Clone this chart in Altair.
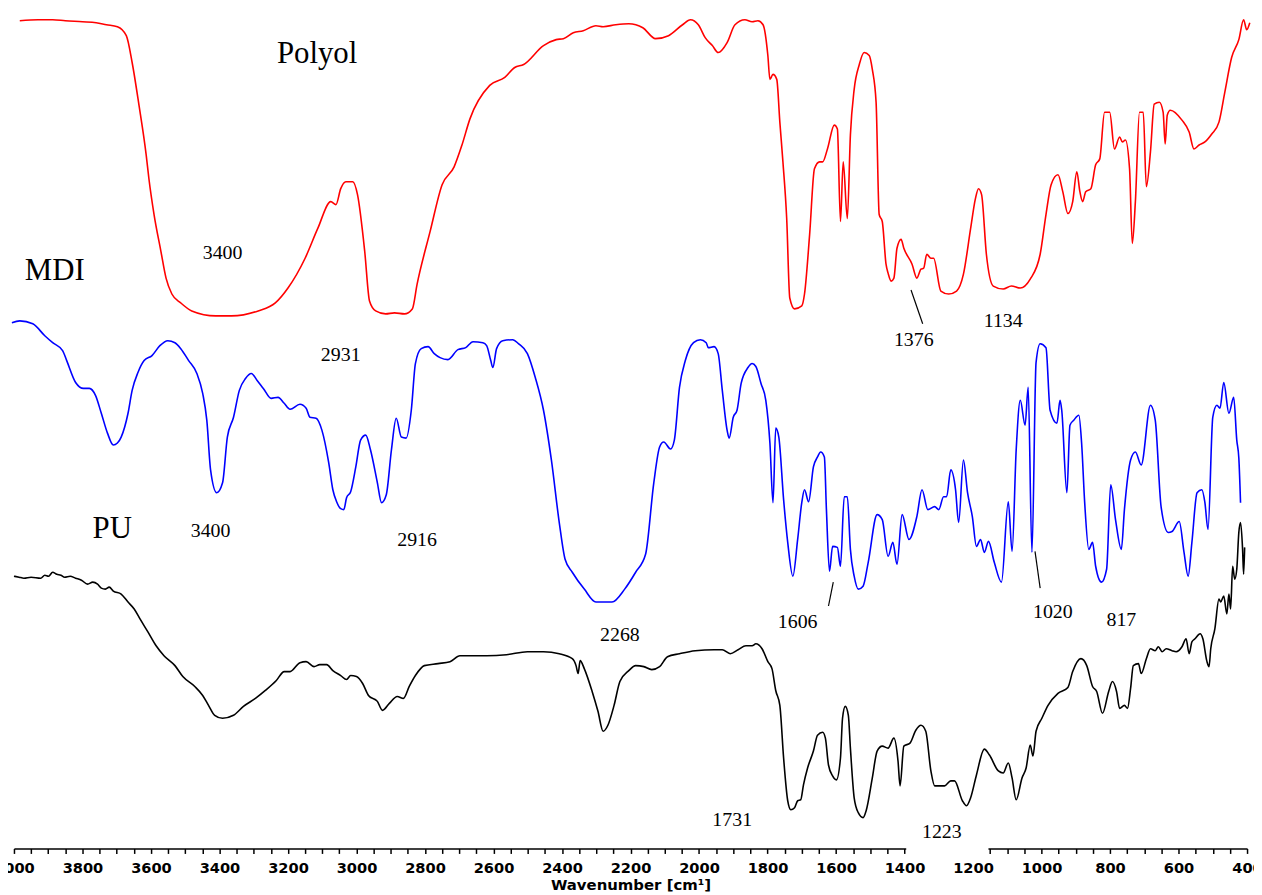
import altair as alt
import pandas as pd

# ---- spectra: (wavenumber cm-1, offset signal a.u. - larger = lower on chart) ----
polyol = [(3983,18),(3930,17),(3887,17),(3850,18),(3800,19),(3760,20),(3730,22),(3698,24),(3672,33),(3655,60),(3635,103),
(3614,153),(3606,177),(3591,213),(3571,250),(3556,277),(3539,293),(3513,302),(3481,310),(3411,315),(3365,315),
(3287,310),(3237,302),(3200,287),(3150,257),(3113,227),(3075,200),(3060,203),(3046,187),(3031,180),(3011,180),
(2997,193),(2976,250),(2962,300),(2944,310),(2915,313),(2889,312),(2860,313),(2837,308),(2823,283),(2785,230),
(2750,183),(2715,165),(2692,143),(2669,117),(2611,83),(2567,75),(2538,65),(2512,62),(2454,43),(2417,37),(2396,36),
(2367,30),(2338,28),(2301,23),(2280,24),(2243,22),(2205,21),(2164,25),(2127,36),(2089,33),(2048,22),(2025,17),
(2002,22),(1982,35),(1961,43),(1944,50),(1918,40),(1895,22),(1866,17),(1845,19),(1828,18),(1813,22),(1799,53),
(1793,77),(1784,72),(1773,77),(1764,120),(1755,160),(1744,217),(1735,297),(1721,308),(1700,305),(1692,293),
(1677,233),(1663,167),(1648,160),(1639,160),(1625,147),(1605,123),(1596,127),(1587,220),(1579,160),(1567,217),
(1558,133),(1547,87),(1532,62),(1518,50),(1503,53),(1494,67),(1483,100),(1474,213),(1465,220),(1454,263),
(1448,272),(1439,280),(1431,277),(1422,247),(1410,238),(1402,247),(1378,263),(1364,277),(1352,268),(1344,267),
(1335,253),(1323,257),(1315,257),(1294,290),(1271,293),(1248,290),(1228,273),(1207,227),(1193,197),(1184,187),
(1175,193),(1161,253),(1141,285),(1112,288),(1088,285),(1062,287),(1033,278),(1004,253),(987,213),(972,183),
(952,173),(938,190),(923,212),(909,200),(897,170),(888,190),(880,200),(871,190),(856,187),(842,163),(830,157),
(816,110),(801,110),(787,147),(772,135),(764,140),(755,138),(743,167),(735,242),(726,200),(714,110),(703,110),
(694,185),(682,150),(671,102),(656,100),(645,110),(639,142),(633,113),(624,108),(590,118),(569,130),(555,147),
(540,143),(523,140),(503,132),(482,120),(465,90),(445,55),(424,37),(410,17),(401,27),(392,20)]

mdi = [(4006,322),(3983,320),(3945,323),(3910,335),(3887,342),(3858,350),(3846,360),(3820,382),(3797,388),(3780,388),
(3762,395),(3745,413),(3727,433),(3710,445),(3698,443),(3687,437),(3667,413),(3655,390),(3638,372),(3620,360),
(3597,355),(3574,345),(3551,340),(3530,342),(3513,348),(3490,360),(3466,373),(3449,393),(3437,420),(3426,470),
(3408,493),(3391,483),(3377,437),(3359,417),(3342,390),(3324,378),(3307,373),(3290,380),(3272,388),(3249,398),
(3229,397),(3211,403),(3194,409),(3165,404),(3147,408),(3136,417),(3118,418),(3101,430),(3081,463),(3069,490),
(3058,502),(3046,509),(3037,510),(3029,498),(3017,492),(3002,467),(2988,440),(2973,435),(2959,450),(2939,483),
(2927,503),(2913,495),(2898,450),(2884,418),(2869,437),(2855,438),(2840,410),(2828,363),(2811,348),(2791,346),
(2773,353),(2756,357),(2733,359),(2704,349),(2681,347),(2660,341),(2631,342),(2620,345),(2608,360),(2602,367),
(2591,348),(2573,340),(2544,339),(2527,343),(2501,353),(2478,377),(2454,410),(2431,460),(2408,523),(2391,560),
(2370,573),(2335,590),(2301,603),(2254,603),(2217,590),(2185,573),(2156,555),(2132,483),(2115,447),(2103,442),
(2083,449),(2072,440),(2057,387),(2040,360),(2016,342),(1996,339),(1979,342),(1973,347),(1956,346),(1944,353),
(1932,390),(1918,430),(1912,438),(1900,417),(1889,410),(1877,383),(1857,367),(1845,363),(1834,366),(1819,383),
(1805,400),(1793,443),(1784,503),(1776,428),(1767,437),(1753,500),(1741,543),(1726,577),(1712,540),(1700,503),
(1692,490),(1680,502),(1666,467),(1654,457),(1645,452),(1634,457),(1628,510),(1619,572),(1610,547),(1596,548),
(1587,567),(1576,497),(1567,497),(1558,550),(1547,577),(1535,590),(1521,587),(1506,563),(1480,515),(1465,520),
(1448,557),(1434,543),(1422,565),(1407,515),(1387,540),(1364,517),(1349,490),(1332,510),(1312,507),(1300,510),
(1286,497),(1277,497),(1265,470),(1251,490),(1242,523),(1228,460),(1216,493),(1202,517),(1190,547),(1178,540),
(1167,553),(1155,542),(1138,563),(1117,583),(1097,502),(1086,552),(1074,450),(1062,400),(1048,425),(1039,387),
(1028,553),(1016,362),(1004,343),(987,347),(975,410),(955,423),(946,400),(941,410),(926,493),(917,425),(906,420),
(891,415),(883,443),(874,503),(862,550),(851,543),(842,567),(825,583),(810,570),(798,485),(784,520),(767,550),
(758,510),(740,460),(726,452),(709,465),(682,405),(668,420),(651,507),(630,533),(619,532),(598,522),(584,553),
(572,577),(561,543),(546,493),(532,490),(523,503),(514,530),(500,417),(488,405),(479,408),(468,382),(453,413),
(439,397),(430,440),(424,458),(419,503)]

pu = [(4000,577),(3985,578),(3971,579),(3950,578),(3922,579),(3910,576),(3899,577),(3887,573),(3875,575),(3863,576),
(3852,578),(3836,577),(3820,579),(3803,581),(3785,585),(3770,583),(3756,585),(3745,589),(3733,590),(3722,588),
(3710,592),(3687,595),(3667,603),(3649,610),(3632,620),(3609,633),(3585,647),(3562,657),(3530,667),(3507,678),
(3472,688),(3449,697),(3432,707),(3414,717),(3391,720),(3359,717),(3330,708),(3295,700),(3266,692),(3234,682),
(3211,673),(3194,673),(3165,664),(3147,663),(3124,668),(3107,666),(3087,666),(3069,672),(3046,677),(3029,681),
(3017,677),(3000,678),(2982,685),(2965,697),(2939,703),(2924,712),(2904,705),(2881,698),(2863,700),(2846,688),
(2828,677),(2802,667),(2762,665),(2727,663),(2698,657),(2669,657),(2620,657),(2562,656),(2501,653),(2454,653),
(2408,655),(2370,660),(2359,667),(2353,675),(2347,662),(2335,670),(2312,693),(2295,713),(2280,733),(2266,727),
(2248,707),(2231,683),(2205,672),(2185,667),(2161,668),(2138,671),(2115,668),(2092,658),(2057,655),(2011,652),
(1956,651),(1932,651),(1909,655),(1886,651),(1863,647),(1845,647),(1834,645),(1816,650),(1799,663),(1787,670),
(1776,692),(1764,707),(1753,760),(1741,803),(1732,812),(1721,810),(1712,803),(1703,802),(1695,787),(1683,770),
(1666,753),(1654,737),(1639,734),(1631,740),(1622,767),(1610,778),(1599,782),(1587,760),(1581,720),(1573,708),
(1564,717),(1558,750),(1547,800),(1535,815),(1521,820),(1512,813),(1494,780),(1480,753),(1465,748),(1448,750),
(1431,740),(1419,763),(1413,788),(1402,748),(1384,745),(1367,732),(1352,727),(1338,733),(1323,773),(1312,788),
(1283,788),(1265,783),(1254,783),(1231,803),(1219,808),(1207,800),(1190,777),(1167,751),(1152,757),(1126,773),
(1112,775),(1097,765),(1086,780),(1074,802),(1057,780),(1045,770),(1033,747),(1025,758),(1016,733),(999,720),
(981,707),(952,695),(923,689),(909,673),(885,660),(868,667),(851,688),(839,693),(822,715),(804,693),(793,683),
(781,693),(772,710),(758,707),(749,710),(740,690),(732,667),(717,665),(709,675),(694,660),(682,650),(668,652),
(659,648),(648,653),(636,650),(619,652),(607,653),(590,648),(578,640),(569,655),(561,643),(552,640),(537,635),
(529,640),(517,663),(511,668),(506,650),(494,630),(482,600),(477,603),(468,597),(459,615),(453,595),(448,610),
(442,567),(436,580),(430,570),(424,533),(419,523),(413,550),(410,575),(407,548)]

series_names = ["Polyol", "MDI", "PU"]
series_colors = ["#ff0000", "#0000ff", "#000000"]

# sample names and peak annotations (wavenumber, signal, text)
names = [(3115, 52, "Polyol"), (3881, 270, "MDI"), (3713, 530, "PU")]
peaks = [(3391, 252, "3400"), (3046, 354, "2931"), (1373, 339, "1376"), (1112, 320, "1134"),
         (3426, 532, "3400"), (2823, 541, "2916"), (2231, 636, "2268"), (1712, 623, "1606"),
         (967, 613, "1020"), (767, 621, "817"), (1903, 822, "1731"), (1291, 834, "1223")]
leaders = [(1381, 289, 1347, 323), (1608, 583, 1622, 607), (1019, 552, 1004, 589)]
label_box = [(1395, 846, 1155, 858)]

rows = []
for name, data in zip(series_names, [polyol, mdi, pu]):
    for wn, v in data:
        rows.append({"series": name, "wn": wn, "val": v})
df = pd.DataFrame(rows)
names_df = pd.DataFrame(names, columns=["wn", "val", "label"])
peaks_df = pd.DataFrame(peaks, columns=["wn", "val", "label"])
lead_df = pd.DataFrame(leaders, columns=["wn", "val", "wn2", "val2"])
box_df = pd.DataFrame(label_box, columns=["wn", "val", "wn2", "val2"])

TITLE = "Wavenumber [cm¹]"
xaxis = alt.Axis(values=list(range(400, 4001, 50)),
                 labelExpr="datum.value % 200 == 0 ? format(datum.value, 'd') : ''",
                 grid=False, tickSize=5, tickWidth=1.5, tickColor="black",
                 domainColor="black", domainWidth=1.5, labelFont="DejaVu Sans",
                 labelFontWeight="bold", labelFontSize=14.7, labelColor="black",
                 labelPadding=7, labelOverlap=False, labelFlush=False,
                 titleFont="DejaVu Sans", titleFontWeight="bold", titleFontSize=15,
                 titleColor="black", titlePadding=3)
xscale = alt.Scale(domain=[400, 4000], reverse=True, nice=False, zero=False)
yscale = alt.Scale(domain=[8, 851], reverse=True, nice=False, zero=False)

def X():
    return alt.X("wn:Q", scale=xscale, axis=xaxis, title=TITLE)

def Y():
    return alt.Y("val:Q", scale=yscale, axis=None)

lines = alt.Chart(df).mark_line(strokeWidth=1.6, interpolate="monotone").encode(
    x=X(), y=Y(),
    color=alt.Color("series:N", scale=alt.Scale(domain=series_names, range=series_colors), legend=None),
)

box = alt.Chart(box_df).mark_rect(color="white").encode(x=X(), x2="wn2:Q", y=Y(), y2="val2:Q")

rules = alt.Chart(lead_df).mark_rule(color="black", strokeWidth=1.2).encode(
    x=X(), x2="wn2:Q", y=Y(), y2="val2:Q")

name_text = alt.Chart(names_df).mark_text(font="Liberation Serif", fontSize=31, color="black",
                                          baseline="middle", align="center").encode(
    x=X(), y=Y(), text="label:N")

peak_text = alt.Chart(peaks_df).mark_text(font="Liberation Serif", fontSize=20, color="black",
                                          baseline="middle", align="center").encode(
    x=X(), y=Y(), text="label:N")

chart = alt.layer(box, lines, rules, name_text, peak_text).properties(
    width=1241, height=843,
    padding={"left": 6, "top": 0, "right": 7, "bottom": 43},
    autosize=alt.AutoSizeParams(type="none"),
    background="white",
).configure_view(stroke=None)

chart.save("out.html", embed_options={"renderer": "svg", "actions": False})
